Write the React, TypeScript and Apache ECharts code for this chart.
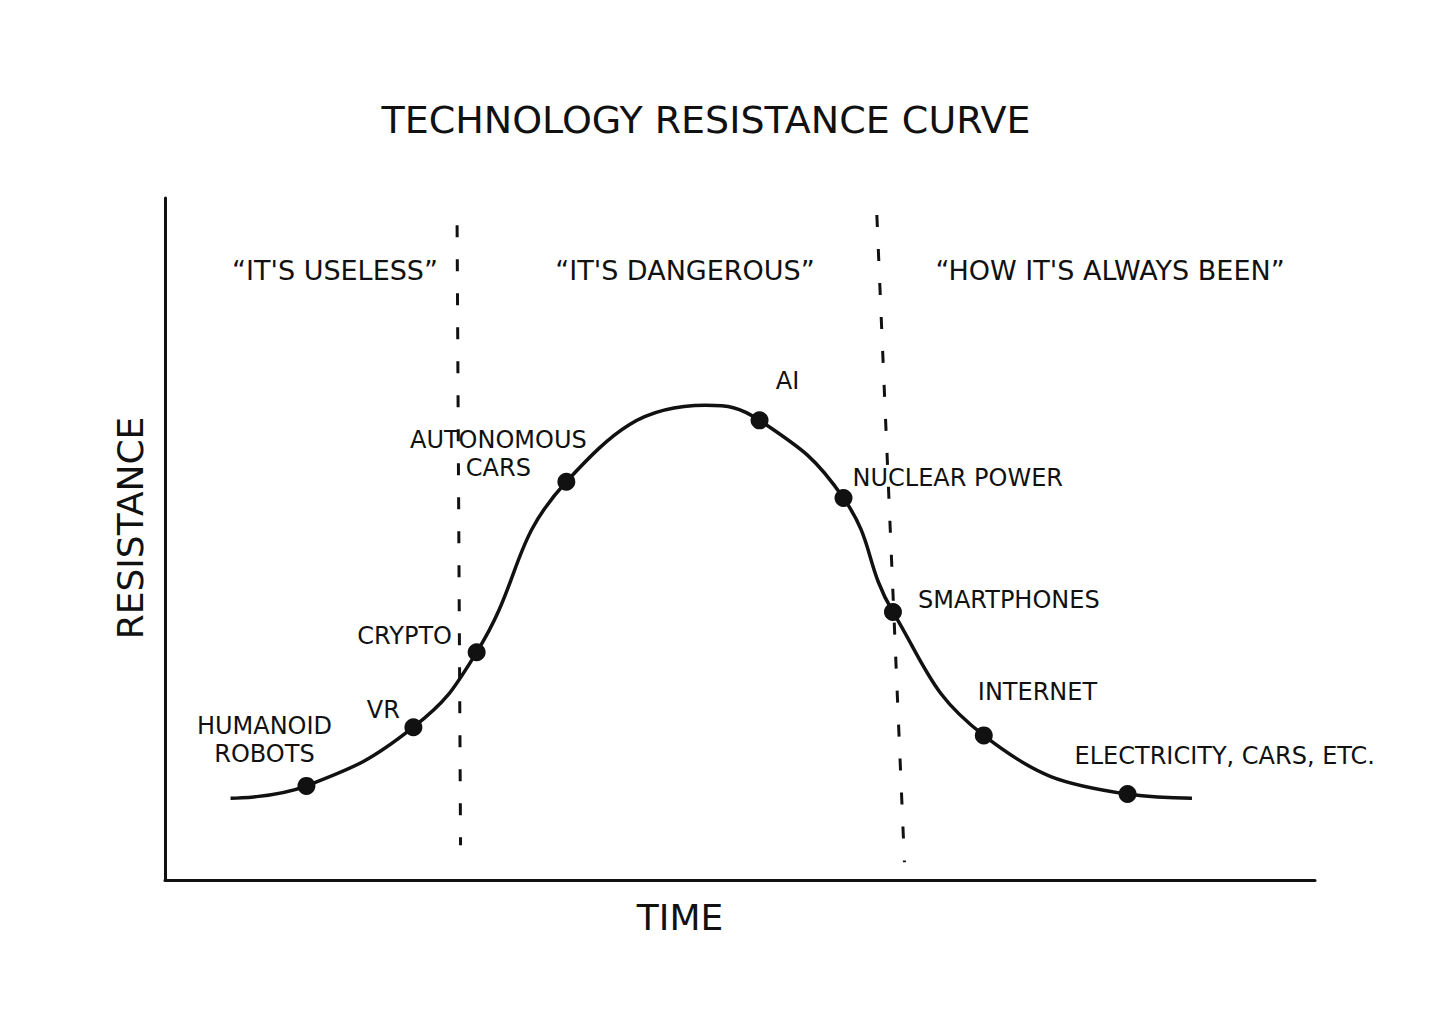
import React, { useEffect, useRef } from "react";
import * as echarts from "echarts";

const TITLE = "TECHNOLOGY RESISTANCE CURVE";
const X_NAME = "TIME";
const Y_NAME = "RESISTANCE";
const PHASES = ["\u201CIT'S USELESS\u201D", "\u201CIT'S DANGEROUS\u201D", "\u201CHOW IT'S ALWAYS BEEN\u201D"];

// curve (time, resistance)
const curveX = [5.7, 12.3, 21.6, 27.1, 34.9, 47.0, 51.7, 59.0, 63.3, 71.2, 83.7, 89.3];
const curveY = [12.0, 13.8, 22.4, 33.4, 58.4, 69.6, 67.4, 56.0, 39.3, 21.2, 12.6, 12.0];

// labelled technologies
const techNames = ["HUMANOID\nROBOTS", "VR", "CRYPTO", "AUTONOMOUS\nCARS", "AI", "NUCLEAR POWER", "SMARTPHONES", "INTERNET", "ELECTRICITY, CARS, ETC."];
const techX = [12.3, 21.6, 27.1, 34.9, 51.7, 59.0, 63.3, 71.2, 83.7];
const techY = [13.8, 22.4, 33.4, 58.4, 67.4, 56.0, 39.3, 21.2, 12.6];

// phase boundaries (slightly slanted hand-drawn dashes)
const boundaryTopX = [25.4, 61.9];
const boundaryBottomX = [25.7, 64.3];
const boundaryTopY = [96.0, 97.5];
const boundaryBottomY = [5.1, 2.6];

const labelStyles: any[] = [
  { align: "center", offset: [-42, -46] },
  { align: "center", offset: [-30, -17] },
  { align: "center", offset: [-72, -16] },
  { align: "center", offset: [-68, -28] },
  { align: "center", offset: [28, -39] },
  { align: "left", offset: [9, -20] },
  { align: "left", offset: [25, -12] },
  { align: "left", offset: [-6, -43] },
  { align: "left", offset: [-53, -38] },
];

const FONT = "DejaVu Sans";

export default function App() {
  const ref = useRef<HTMLDivElement>(null);
  useEffect(() => {
    if (!ref.current) return;
    const chart = echarts.init(ref.current, null, { renderer: "svg" });
    const lineData = curveX.map((x, i) => [x, curveY[i]]);
    const pointData = techNames.map((n, i) => ({
      name: n,
      value: [techX[i], techY[i]],
      label: {
        show: true,
        position: "inside",
        formatter: "{b}",
        color: "#111",
        fontFamily: FONT,
        fontSize: 24,
        lineHeight: 28,
        verticalAlign: "middle",
        ...labelStyles[i],
      },
    }));
    const boundaries = boundaryTopX.map((x, i) => [
      { coord: [x, boundaryTopY[i]] },
      { coord: [boundaryBottomX[i], boundaryBottomY[i]] },
    ]);
    const phaseX = [335, 685, 1110];
    chart.setOption({
      animation: false,
      backgroundColor: "#ffffff",
      title: {
        text: TITLE,
        left: 701,
        top: 96,
        textAlign: "center",
        textStyle: { fontFamily: FONT, fontSize: 38, fontWeight: "normal", color: "#111" },
      },
      grid: { left: 165, right: 141, top: 198, bottom: 144 },
      xAxis: {
        type: "value",
        min: 0,
        max: 100,
        axisLine: { show: true, lineStyle: { color: "#111", width: 3 } },
        axisTick: { show: false },
        axisLabel: { show: false },
        splitLine: { show: false },
      },
      yAxis: {
        type: "value",
        min: 0,
        max: 100,
        axisLine: { show: true, lineStyle: { color: "#111", width: 3 } },
        axisTick: { show: false },
        axisLabel: { show: false },
        splitLine: { show: false },
      },
      graphic: [
        {
          type: "text",
          x: 680,
          y: 917,
          style: { text: X_NAME, fontFamily: FONT, fontSize: 36, fill: "#111", align: "center", verticalAlign: "middle" },
        },
        {
          type: "text",
          x: 130,
          y: 528,
          rotation: Math.PI / 2,
          style: {
            text: Y_NAME,
            fontFamily: FONT,
            fontSize: 36,
            fill: "#111",
            align: "center",
            verticalAlign: "middle",
          },
        },
        ...PHASES.map((p, i) => ({
          type: "text",
          x: phaseX[i],
          y: 270,
          style: { text: p, fontFamily: FONT, fontSize: 27, fill: "#111", align: "center", verticalAlign: "middle" },
        })),
      ],
      series: [
        {
          type: "line",
          data: lineData,
          smooth: 0.45,
          showSymbol: false,
          lineStyle: { color: "#111", width: 3.5 },
          markLine: {
            silent: true,
            symbol: "none",
            label: { show: false },
            lineStyle: { color: "#111", width: 3, type: [12, 22] },
            data: boundaries,
          },
          z: 2,
        },
        {
          type: "scatter",
          data: pointData,
          symbolSize: 18,
          itemStyle: { color: "#111", opacity: 1 },
          z: 3,
        },
      ],
    });
    return () => chart.dispose();
  }, []);
  return (
    <div
      ref={ref}
      style={{ position: "fixed", left: 0, top: 0, width: 1456, height: 1024, background: "#fff" }}
    />
  );
}
